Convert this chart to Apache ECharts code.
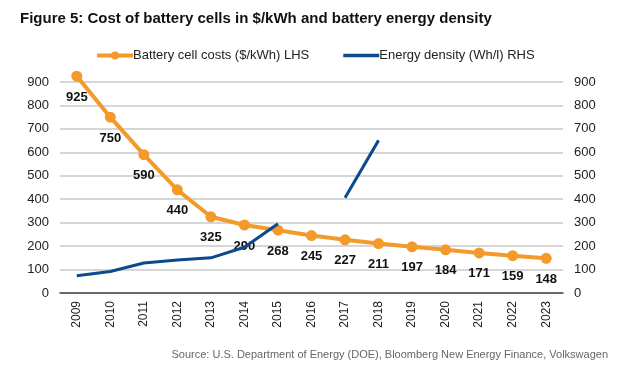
<!DOCTYPE html>
<html><head><meta charset="utf-8">
<script src="https://cdn.jsdelivr.net/npm/echarts@6/dist/echarts.min.js"></script>
<style>html,body{margin:0;padding:0;background:#fff}#c{width:630px;height:381px}</style>
</head><body><div id="c"></div>
<script>
const years = ['2009','2010','2011','2012','2013','2014','2015','2016','2017','2018','2019','2020','2021','2022','2023'];
const cellCosts = [925,750,590,440,325,290,268,245,227,211,197,184,171,159,148];
const energyDensity = [74,92,128,141,150,195,295,null,406,651,null,null,null,null,null];
const yTicks = [0,100,200,300,400,500,600,700,800,900];

const chart = echarts.init(document.getElementById('c'));
const axisFont = {fontFamily:'Liberation Sans, Arial', fontSize:13, color:'#222'};
chart.setOption({
  animation:false,
  title:{text:'Figure 5: Cost of battery cells in $/kWh and battery energy density', left:15, top:6,
    textStyle:{fontFamily:'Liberation Sans, Arial', fontWeight:'bold', fontSize:15, color:'#111'}},
  legend:{top:44, left:90, itemGap:34, itemWidth:36, itemHeight:10,
    textStyle:{fontFamily:'Liberation Sans, Arial', fontSize:13, color:'#222', padding:[0,0,0,-5]},
    data:[{name:'Battery cell costs ($/kWh) LHS', lineStyle:{width:4}},
          {name:'Energy density (Wh/l) RHS', icon:'path://M0,3.5L34,3.5L34,7L0,7Z'}]},
  graphic:[{type:'text', right:22, top:349, style:{text:'Source: U.S. Department of Energy (DOE), Bloomberg New Energy Finance, Volkswagen',
    font:'11px Liberation Sans, Arial', fill:'#666'}}],
  grid:{left:60, right:67, top:82, bottom:88},
  xAxis:{type:'category', data:years, boundaryGap:true,
    axisLine:{lineStyle:{color:'#444', width:1.5}}, axisTick:{show:false},
    axisLabel:{rotate:90, margin:8, ...axisFont, fontSize:12}},
  yAxis:[
    {type:'value', min:0, max:900, interval:100, splitLine:{lineStyle:{color:'#c8c8c8', width:1.5}},
     axisLabel:{...axisFont, margin:11}, axisLine:{show:false}, axisTick:{show:false}},
    {type:'value', min:0, max:900, interval:100, splitLine:{show:false},
     axisLabel:{...axisFont, margin:11}, axisLine:{show:false}, axisTick:{show:false}}
  ],
  series:[
    {name:'Battery cell costs ($/kWh) LHS', type:'line', data:cellCosts, yAxisIndex:0, clip:false,
     color:'#F39A2B', lineStyle:{width:4, color:'#F39A2B'}, symbol:'circle', symbolSize:11,
     itemStyle:{color:'#F39A2B'}, z:2,
     label:{show:true, position:'bottom', distance:9, fontFamily:'Liberation Sans, Arial', fontWeight:'bold', fontSize:13, color:'#111'}},
    {name:'Energy density (Wh/l) RHS', type:'line', data:energyDensity, yAxisIndex:1, clip:false,
     color:'#0B4A8B', lineStyle:{width:3, color:'#0B4A8B'}, showSymbol:false, symbol:'none', connectNulls:false, z:3,
     itemStyle:{color:'#0B4A8B'}}
  ]
});
</script></body></html>
